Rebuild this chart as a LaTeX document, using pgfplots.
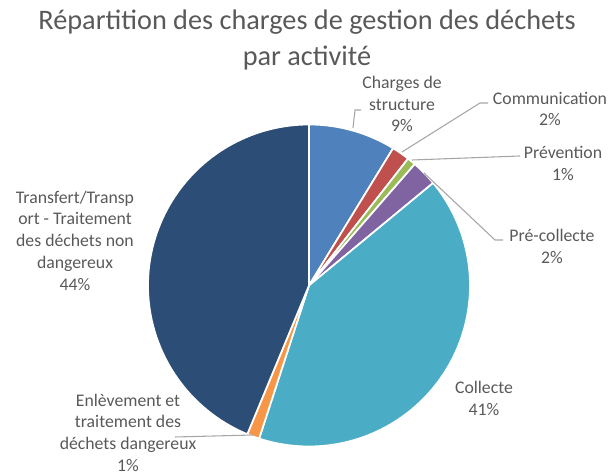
\documentclass[border=0pt]{standalone}
\usepackage{pgfplots}
\pgfplotsset{compat=1.18}
\usepackage{pgfplotstable}
\usepackage{fontspec}
\setmainfont{Carlito}

\definecolor{cStruct}{HTML}{4F81BD}
\definecolor{cComm}{HTML}{C0504D}
\definecolor{cPrev}{HTML}{9BBB59}
\definecolor{cPre}{HTML}{8064A2}
\definecolor{cColl}{HTML}{4BACC6}
\definecolor{cEnl}{HTML}{F79646}
\definecolor{cTrans}{HTML}{2C4D75}
\definecolor{txt}{HTML}{595959}
\definecolor{leader}{HTML}{A6A6A6}

\tikzset{lbl/.style={font=\fontsize{13.3}{16.3}\selectfont, text=txt, align=center}}

% share of each activity (percent), clockwise from 12 o'clock
\pgfplotstableread{
name value col
structure 8.75 cStruct
communication 1.80 cComm
prevention 0.86 cPrev
precollecte 2.60 cPre
collecte 41.00 cColl
enlevement 1.25 cEnl
transfert 43.74 cTrans
}\piedata

\begin{document}
\begin{tikzpicture}
\gdef\angS{90}
\begin{axis}[
  width=459pt, height=356.25pt, scale only axis,
  xmin=0, xmax=612, ymin=0, ymax=475,
  hide axis, clip=false,
]
\path[use as bounding box] (rel axis cs:0,0) rectangle (rel axis cs:1,1);
\pgfplotsinvokeforeach{0,...,6}{
  \pgfplotstablegetelem{#1}{value}\of\piedata \let\v\pgfplotsretval
  \pgfplotstablegetelem{#1}{col}\of\piedata \let\c\pgfplotsretval
  \pgfmathsetmacro\angE{\angS-3.6*\v}
  \edef\doslice{\noexpand\addplot[fill=\c, draw=white, line width=1.3pt,
      domain=\angE:\angS, samples=90, variable=\noexpand\t]
      ({309+161*cos(\noexpand\t)},{189.5+161*sin(\noexpand\t)})
      -- (axis cs:309,189.5) -- cycle;}
  \doslice
  \global\let\angS\angE
}

% leader lines
\draw[leader, line width=0.8pt] (axis cs:353,347) -- (axis cs:355,365) -- (axis cs:361,365);
\draw[leader, line width=0.8pt] (axis cs:402,323) -- (axis cs:480,372) -- (axis cs:488,372);
\draw[leader, line width=0.8pt] (axis cs:412,315) -- (axis cs:520,319);
\draw[leader, line width=0.8pt] (axis cs:424,302) -- (axis cs:495,235) -- (axis cs:503,235);
\draw[leader, line width=0.8pt] (axis cs:253,40) -- (axis cs:175,38);

% labels
\node[lbl] at (axis cs:402,371) {Charges de\\structure\\9\%};
\node[lbl] at (axis cs:550,366) {Communication\\2\%};
\node[lbl] at (axis cs:563,311.7) {Prévention\\1\%};
\node[lbl] at (axis cs:552,228.5) {Pré-collecte\\2\%};
\node[lbl] at (axis cs:484,76.5) {Collecte\\41\%};
\node[lbl] at (axis cs:75,234.5) {Transfert/Transp\\ort - Traitement\\des déchets non\\dangereux\\44\%};
\node[lbl] at (axis cs:128,42.3) {Enlèvement et\\traitement des\\déchets dangereux\\1\%};

% title
\node[font=\fontsize{21.2}{26.3}\selectfont, text=txt, align=center] at (axis cs:307,435)
  {Répartition des charges de gestion des déchets\\par activité};
\end{axis}
\end{tikzpicture}
\end{document}
